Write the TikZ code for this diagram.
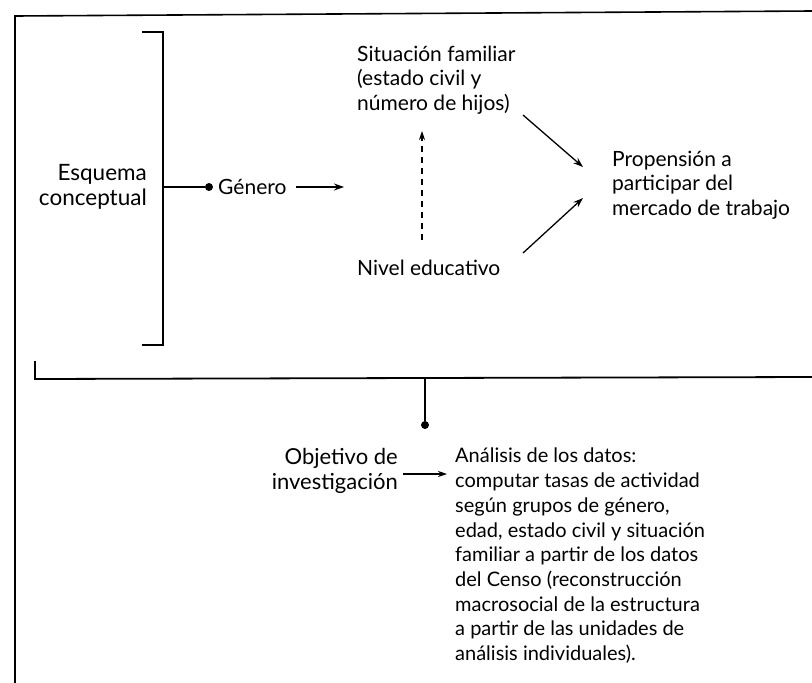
\documentclass[tikz,border=0pt]{standalone}
\usepackage{fontspec}
\setmainfont{Lato}
\usetikzlibrary{arrows.meta}
\begin{document}
\begin{tikzpicture}[x=1pt,y=-1pt,
  txt/.style={inner sep=0pt,font=\fontsize{21}{24.7}\selectfont},
  txtb/.style={inner sep=0pt,font=\fontsize{20}{24.7}\selectfont},
  frameline/.style={line width=1.6pt},
  brk/.style={line width=2pt},
  arr/.style={line width=1.3pt,-{Stealth[length=10pt,width=7pt]}},
  dot/.style={circle,fill=black,inner sep=0pt,minimum size=8pt}]
\useasboundingbox (0,0) rectangle (812,683);
% outer frame
\coordinate (fbl) at (15,683);
\coordinate (ftl) at (15,16);
\coordinate (ftr) at (812,11);
\draw[frameline] (fbl) -- (ftl) -- (ftr);
% bracket
\coordinate (bt1) at (142,32);
\coordinate (bt2) at (163,32);
\coordinate (bb2) at (163,345);
\coordinate (bb1) at (142,345);
\draw[brk] (bt1) -- (bt2) -- (bb2) -- (bb1);
\coordinate (bmid) at (163,187);
\node[txt,anchor=east,align=right,font=\fontsize{22.5}{24.7}\selectfont] (esq) at (147,187) {Esquema\\conceptual};
\node[dot] (gdot) at (209,187) {};
\draw[line width=1.4pt] (bmid) -- (gdot);
\node[txt,anchor=west] (gen) at (218,187) {Género};
\coordinate (gs) at (296,187);
\coordinate (ga) at (344,187);
\draw[arr] (gs) -- (ga);
\node[txt,anchor=west,align=left] (sit) at (357,80) {Situación familiar\\(estado civil y\\número de hijos)};
\node[txt,anchor=west] (niv) at (357,268) {Nivel educativo};
\node[txt,anchor=west,align=left] (prop) at (612,185) {Propensión a\\participar del\\mercado de trabajo};
\coordinate (d1) at (422,240);
\coordinate (d2) at (422,131);
\draw[line width=1.2pt,dashed,dash pattern=on 6pt off 5pt,-{Stealth[length=9pt,width=6pt]}] (d1) -- (d2);
\coordinate (a1s) at (523,115);
\coordinate (a1e) at (583,167);
\coordinate (a2s) at (523,253);
\coordinate (a2e) at (583,198);
\draw[arr] (a1s) -- (a1e);
\draw[arr] (a2s) -- (a2e);
% bottom
\coordinate (l1) at (35,361);
\coordinate (l2) at (35,379);
\coordinate (l3) at (812,377);
\draw[line width=1.8pt] (l1) -- (l2) -- (l3);
\coordinate (vt) at (425,378);
\node[dot] (odot) at (425,425) {};
\draw[line width=1.8pt] (vt) -- (odot);
\node[txt,anchor=east,align=right,font=\fontsize{22}{24.7}\selectfont] (obj) at (398,471) {Objetivo de\\investigación};
\node[txtb,anchor=north west,align=left] (ana) at (455,448) {Análisis de los datos:\\computar tasas de actividad\\según grupos de género,\\edad, estado civil y situación\\familiar a partir de los datos\\del Censo (reconstrucción\\macrosocial de la estructura\\a partir de las unidades de\\análisis individuales).};
\coordinate (oa1) at (403,474);
\coordinate (oa2) at (447,474);
\draw[line width=1.1pt,-{Stealth[length=9pt,width=6pt]}] (oa1) -- (oa2);
\end{tikzpicture}
\end{document}
